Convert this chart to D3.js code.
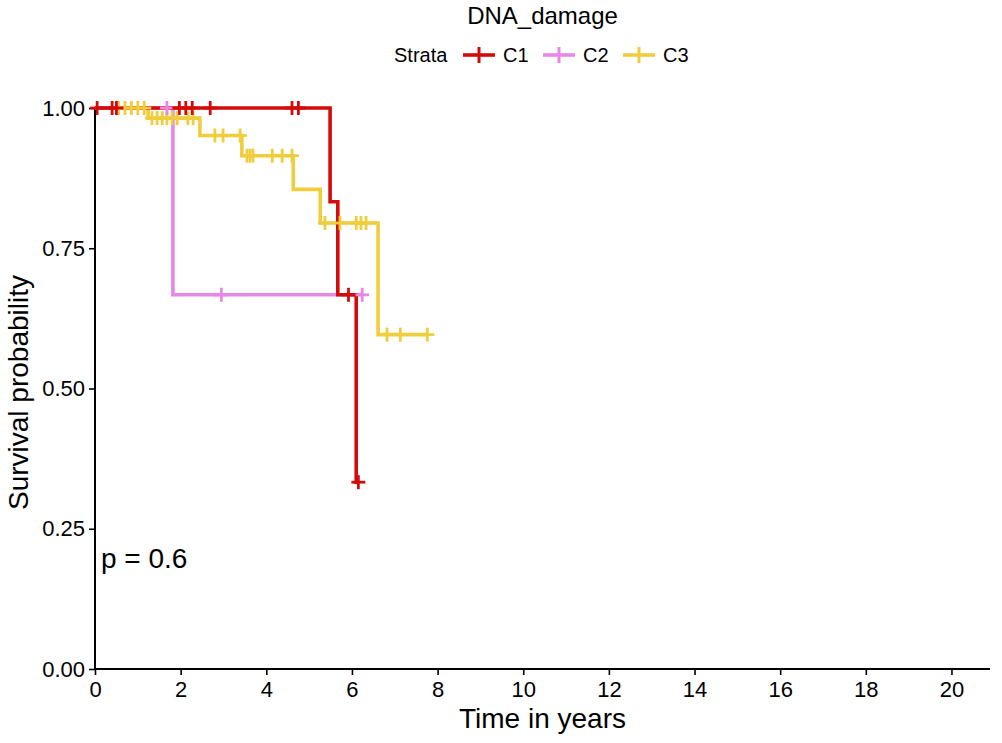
<!DOCTYPE html>
<html><head><meta charset="utf-8">
<script src="https://cdn.jsdelivr.net/npm/d3@7"></script>
<style>body{margin:0;background:#fff}svg{display:block}text{font-family:"Liberation Sans",Arial,sans-serif}</style>
</head><body><svg id="c" width="1002" height="743"></svg>
<script>
const strata = ["C1", "C2", "C3"];
const colors = ["#d40b0b", "#e887e8", "#f0cd3c"];
// step changes: times and survival after each time
const c1Times = [0, 5.49, 5.67, 6.10];
const c1Surv  = [1, 0.833, 0.667, 0.333];
const c1End = 6.15;
const c1Censor = [0.05, 0.4, 0.5, 1.97, 2.12, 2.27, 2.69, 4.6, 4.75, 5.92, 6.15];

const c2Times = [0, 1.82];
const c2Surv  = [1, 0.667];
const c2End = 6.24;
const c2Censor = [1.68, 2.95, 6.24];

const c3Times = [0, 1.24, 2.45, 3.43, 4.63, 5.26, 6.61];
const c3Surv  = [1, 0.982, 0.951, 0.915, 0.855, 0.795, 0.596];
const c3End = 7.76;
const c3Censor = [0.55, 0.7, 0.85, 1.0, 1.15, 1.33, 1.45, 1.57, 1.68, 1.8, 1.92, 2.17, 2.29,
  2.8, 2.99, 3.39, 3.55, 3.62, 3.69, 4.14, 4.37, 4.6, 5.37, 5.72, 6.1, 6.21, 6.33, 6.82, 7.13, 7.76];

const xTicks = [0, 2, 4, 6, 8, 10, 12, 14, 16, 18, 20];
const yTicks = [0, 0.25, 0.5, 0.75, 1];
const yTickLabels = ["0.00", "0.25", "0.50", "0.75", "1.00"];

const series = [
  {times: c1Times, surv: c1Surv, end: c1End, censor: c1Censor},
  {times: c2Times, surv: c2Surv, end: c2End, censor: c2Censor},
  {times: c3Times, surv: c3Surv, end: c3End, censor: c3Censor}
];

const svg = d3.select("#c");
const L = 95, R = 990, T = 108, B = 669;
const x = d3.scaleLinear().domain([0, 20.9]).range([L, R]);
const y = d3.scaleLinear().domain([0, 1]).range([B, T]);

function survAt(s, t) {
  let v = s.surv[0];
  for (let i = 0; i < s.times.length; i++) if (s.times[i] <= t) v = s.surv[i];
  return v;
}

// axes
const xAxis = svg.append("g").attr("transform", `translate(0,${B})`)
  .call(d3.axisBottom(x).tickValues(xTicks).tickSize(6).tickSizeOuter(0));
const yAxis = svg.append("g").attr("transform", `translate(${L},0)`)
  .call(d3.axisLeft(y).tickValues(yTicks).tickFormat((d, i) => yTickLabels[i]).tickSize(6).tickSizeOuter(0));
[xAxis, yAxis].forEach(a => {
  a.select(".domain").attr("stroke", "#000").attr("stroke-width", 2);
  a.selectAll(".tick line").attr("stroke", "#000").attr("stroke-width", 1.6);
  a.selectAll(".tick text").attr("fill", "#000").style("font-size", "22px")
   .style("font-family", "'Liberation Sans', Arial, sans-serif");
});
xAxis.select(".domain").attr("d", `M${L},0H${R}`);
yAxis.select(".domain").attr("d", `M0,${B}V${T}`);
xAxis.selectAll(".tick text").attr("dy", "0.85em");
yAxis.selectAll(".tick text").attr("dx", "-1");

// curves
const line = d3.line().x(d => x(d[0])).y(d => y(d[1])).curve(d3.curveStepAfter);
const order = [2, 1, 0];
order.forEach(i => {
  const s = series[i];
  const pts = s.times.map((t, k) => [t, s.surv[k]]);
  pts.push([s.end, s.surv[s.surv.length - 1]]);
  svg.append("path").datum(pts).attr("d", line).attr("fill", "none")
    .attr("stroke", colors[i]).attr("stroke-width", 3.6).attr("stroke-linejoin", "miter");
});
order.forEach(i => {
  const s = series[i];
  const g = svg.append("g").attr("stroke", colors[i]).attr("stroke-width", 2.8);
  s.censor.forEach(t => {
    const cx = x(t), cy = y(survAt(s, t));
    g.append("line").attr("x1", cx).attr("x2", cx).attr("y1", cy - 7).attr("y2", cy + 7);
    g.append("line").attr("x1", cx - 7).attr("x2", cx + 7).attr("y1", cy).attr("y2", cy);
  });
});

// texts
svg.append("text").attr("x", (L + R) / 2).attr("y", 24).attr("text-anchor", "middle")
  .style("font-size", "24px").text("DNA_damage");
svg.append("text").attr("x", (L + R) / 2).attr("y", 728).attr("text-anchor", "middle")
  .style("font-size", "28px").text("Time in years");
svg.append("text").attr("transform", `translate(28,${(T + B) / 2 + 4}) rotate(-90)`).attr("text-anchor", "middle")
  .style("font-size", "28px").text("Survival probability");
svg.append("text").attr("x", 101).attr("y", 568).style("font-size", "28px").text("p = 0.6");

// legend
const lg = svg.append("g");
lg.append("text").attr("x", 394).attr("y", 62).style("font-size", "20px").text("Strata");
const keyX = [463, 543, 623];
strata.forEach((s, i) => {
  const kx = keyX[i], ky = 55;
  lg.append("line").attr("x1", kx).attr("x2", kx + 32).attr("y1", ky).attr("y2", ky)
    .attr("stroke", colors[i]).attr("stroke-width", 3.6);
  lg.append("line").attr("x1", kx + 16).attr("x2", kx + 16).attr("y1", ky - 8).attr("y2", ky + 8)
    .attr("stroke", colors[i]).attr("stroke-width", 3);
  lg.append("text").attr("x", kx + 40).attr("y", 62).style("font-size", "20px").text(s);
});
</script></body></html>
